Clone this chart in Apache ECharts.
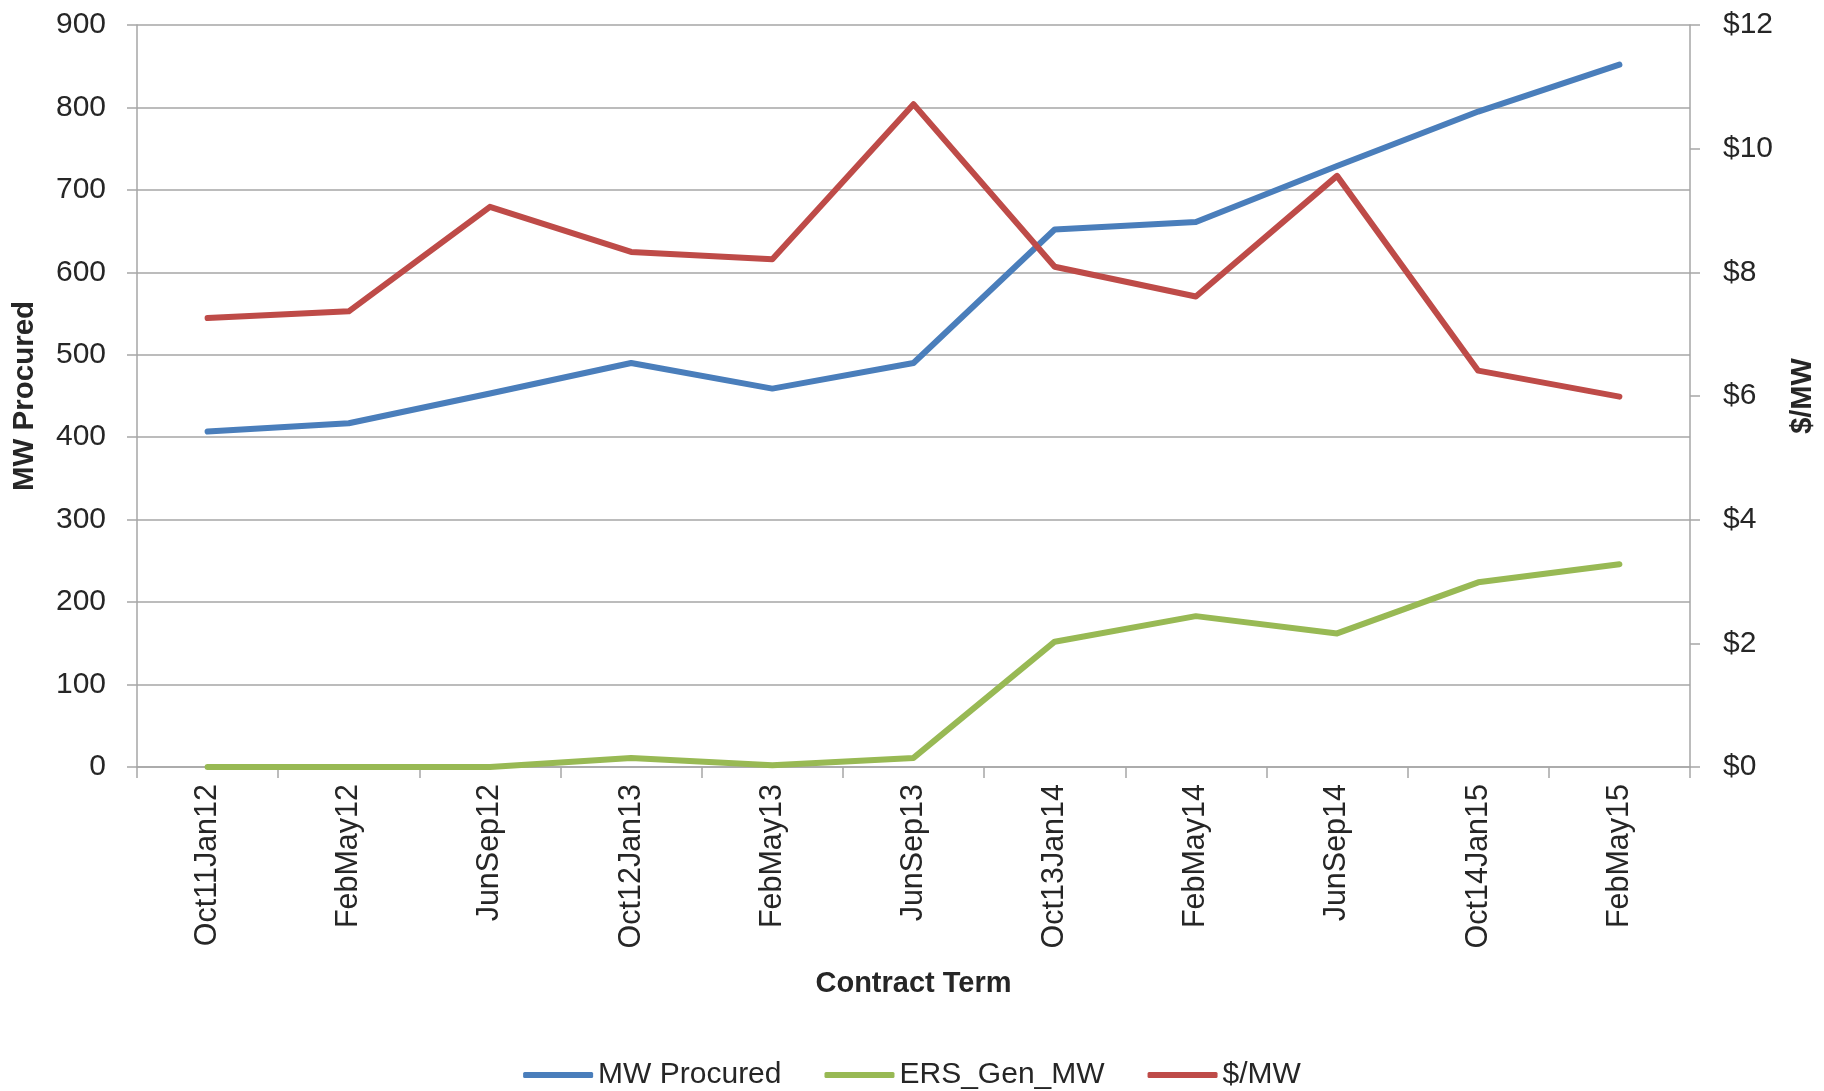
<!DOCTYPE html>
<html>
<head>
<meta charset="utf-8">
<script src="https://cdn.jsdelivr.net/npm/echarts@6/dist/echarts.min.js"></script>
<style>
html,body{margin:0;padding:0;background:#fff;}
#chart{width:1824px;height:1091px;}
</style>
</head>
<body>
<div id="chart"></div>
<script>
const categories = ['Oct11Jan12','FebMay12','JunSep12','Oct12Jan13','FebMay13','JunSep13','Oct13Jan14','FebMay14','JunSep14','Oct14Jan15','FebMay15'];
const mwProcured = [407, 417, 453, 490, 459, 490, 652, 661, 729, 795, 852];
const ersGenMW = [0, 0, 0, 11, 2, 11, 152, 183, 162, 224, 246];
const pricePerMW = [7.26, 7.37, 9.06, 8.33, 8.21, 10.72, 8.09, 7.61, 9.56, 6.41, 5.99];
const seriesNames = ['MW Procured', 'ERS_Gen_MW', '$/MW'];

const FONT = "'Liberation Sans', Arial, sans-serif";
const TXT = '#262626';
const GRID = '#a6a6a6';

const chart = echarts.init(document.getElementById('chart'), null, {renderer: 'canvas'});
chart.setOption({
  animation: false,
  backgroundColor: '#ffffff',
  textStyle: {fontFamily: FONT},
  grid: {left: 137, right: 134, top: 25, bottom: 324, containLabel: false, outerBoundsMode: 'none'},
  legend: {
    data: seriesNames,
    left: 'center',
    top: 1055,
    itemGap: 43,
    itemWidth: 70,
    itemHeight: 6,
    icon: 'roundRect',
    textStyle: {fontFamily: FONT, fontSize: 30, color: TXT, padding: [0,0,0,0]}
  },
  xAxis: {
    type: 'category',
    data: categories,
    boundaryGap: true,
    name: 'Contract Term',
    nameLocation: 'middle',
    nameGap: 202,
    nameTextStyle: {fontFamily: FONT, fontSize: 29, fontWeight: 'bold', color: TXT},
    axisLine: {show: true, lineStyle: {color: GRID, width: 1.5}},
    axisTick: {show: true, inside: false, length: 11, alignWithLabel: false, lineStyle: {color: GRID, width: 1.5}},
    axisLabel: {rotate: 90, margin: 17, fontSize: 30.5, color: TXT, fontFamily: FONT, interval: 0},
    splitLine: {show: false}
  },
  yAxis: [
    {
      type: 'value',
      min: 0, max: 900, interval: 100,
      name: 'MW Procured',
      nameLocation: 'middle',
      nameGap: 97,
      nameRotate: 90,
      nameTextStyle: {fontFamily: FONT, fontSize: 29.5, fontWeight: 'bold', color: TXT},
      axisLine: {show: true, lineStyle: {color: GRID, width: 1.5}},
      axisTick: {show: true, inside: false, length: 10, lineStyle: {color: GRID, width: 1.5}},
      axisLabel: {margin: 31, fontSize: 30, color: TXT, fontFamily: FONT},
      splitLine: {show: true, lineStyle: {color: GRID, width: 1.5}}
    },
    {
      type: 'value',
      min: 0, max: 12, interval: 2,
      position: 'right',
      name: '$/MW',
      nameLocation: 'middle',
      nameGap: 98,
      nameRotate: 90,
      nameTextStyle: {fontFamily: FONT, fontSize: 29, fontWeight: 'bold', color: TXT},
      axisLine: {show: true, lineStyle: {color: GRID, width: 1.5}},
      axisTick: {show: true, inside: false, length: 10, lineStyle: {color: GRID, width: 1.5}},
      axisLabel: {margin: 33, fontSize: 30, color: TXT, fontFamily: FONT, formatter: '${value}'},
      splitLine: {show: false}
    }
  ],
  series: [
    {name: seriesNames[0], type: 'line', yAxisIndex: 0, data: mwProcured, symbol: 'none',
     itemStyle: {color: '#4A7EBB'}, lineStyle: {color: '#4A7EBB', width: 6, cap: 'round', join: 'round'}, z: 3},
    {name: seriesNames[1], type: 'line', yAxisIndex: 0, data: ersGenMW, symbol: 'none',
     itemStyle: {color: '#98B954'}, lineStyle: {color: '#98B954', width: 6, cap: 'round', join: 'round'}, z: 3},
    {name: seriesNames[2], type: 'line', yAxisIndex: 1, data: pricePerMW, symbol: 'none',
     itemStyle: {color: '#BE4B48'}, lineStyle: {color: '#BE4B48', width: 6, cap: 'round', join: 'round'}, z: 3}
  ]
});
</script>
</body>
</html>
